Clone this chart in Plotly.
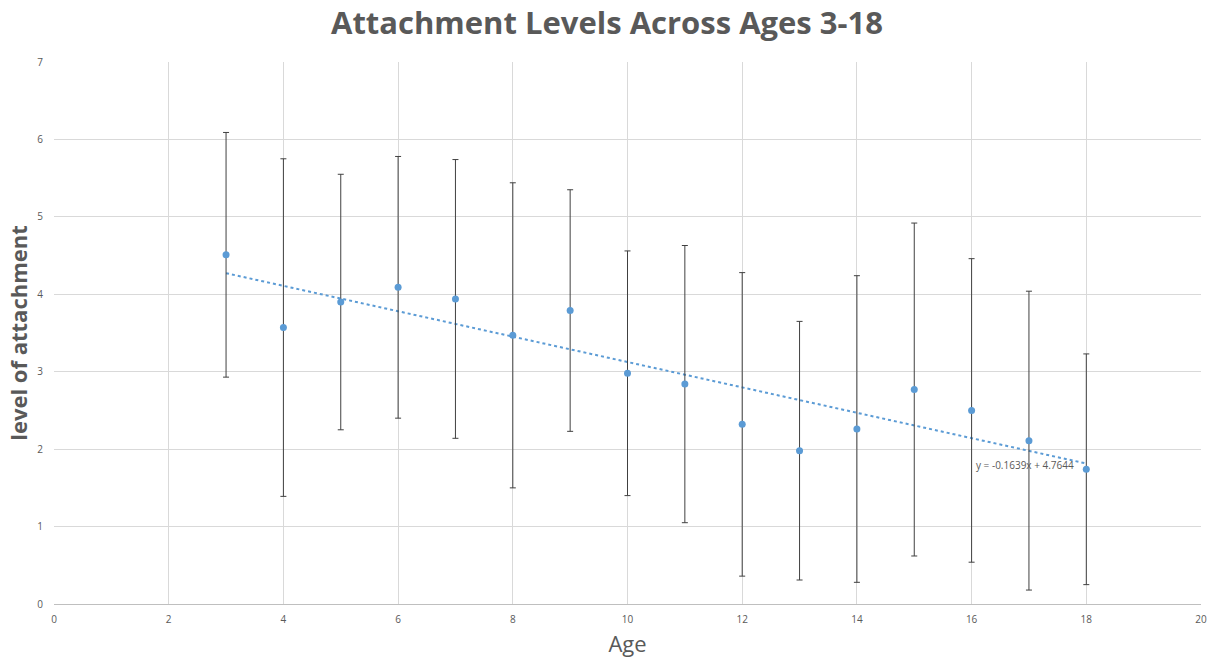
import plotly.graph_objects as go

# Mean attachment level by age, with standard deviation error bars
ages = [3, 4, 5, 6, 7, 8, 9, 10, 11, 12, 13, 14, 15, 16, 17, 18]
mean_attachment = [4.51, 3.57, 3.90, 4.09, 3.94, 3.47, 3.79, 2.98,
                   2.84, 2.32, 1.98, 2.26, 2.77, 2.50, 2.11, 1.74]
std_dev = [1.58, 2.18, 1.65, 1.69, 1.80, 1.97, 1.56, 1.58,
           1.79, 1.96, 1.67, 1.98, 2.15, 1.96, 1.93, 1.49]

# Linear trendline coefficients
slope = -0.1639
intercept = 4.7644
trend_x = [ages[0], ages[-1]]
trend_y = [slope * x + intercept for x in trend_x]

grey_text = "#595959"
blue = "#5B9BD5"
font_family = "Open Sans, Lato, sans-serif"

fig = go.Figure()

fig.add_trace(go.Scatter(
    x=trend_x, y=trend_y, mode="lines",
    line=dict(color=blue, width=2, dash="dot"),
    hoverinfo="skip", showlegend=False,
))

fig.add_trace(go.Scatter(
    x=ages, y=mean_attachment, mode="markers",
    marker=dict(color=blue, size=7),
    error_y=dict(type="data", array=std_dev, visible=True,
                 color="#404040", thickness=1, width=3),
    showlegend=False,
))

fig.add_annotation(
    x=16.93, y=1.80, xref="x", yref="y",
    text=f"y = {slope:.4f}x + {intercept:.4f}",
    showarrow=False, font=dict(size=10, color=grey_text, family=font_family),
)

fig.update_layout(
    width=1214, height=658,
    margin=dict(l=54, r=13, t=62, b=54),
    paper_bgcolor="white", plot_bgcolor="white",
    font=dict(family=font_family, color=grey_text),
    title=dict(
        text="<b>Attachment Levels Across Ages 3-18</b>",
        x=0.5, xanchor="center", y=0.965, yanchor="middle",
        font=dict(size=31, color=grey_text, family=font_family),
    ),
    xaxis=dict(
        range=[0, 20], dtick=2, tick0=0, automargin=False,
        showgrid=True, gridcolor="#d9d9d9", gridwidth=1,
        zeroline=False, showline=True, linecolor="#bfbfbf", linewidth=1,
        ticks="", tickfont=dict(size=10, color=grey_text),
        ticklabelstandoff=6,
        title=dict(text="Age", font=dict(size=22, color=grey_text), standoff=12),
    ),
    yaxis=dict(
        range=[0, 7], dtick=1, tick0=0, automargin=False,
        showgrid=True, gridcolor="#d9d9d9", gridwidth=1,
        zeroline=False, showline=False,
        ticks="", tickfont=dict(size=10, color=grey_text),
        ticklabelstandoff=10,
        title=dict(text="<b>level of attachment</b>",
                   font=dict(size=22, color=grey_text), standoff=3),
    ),
)

fig.write_html("out.html")
